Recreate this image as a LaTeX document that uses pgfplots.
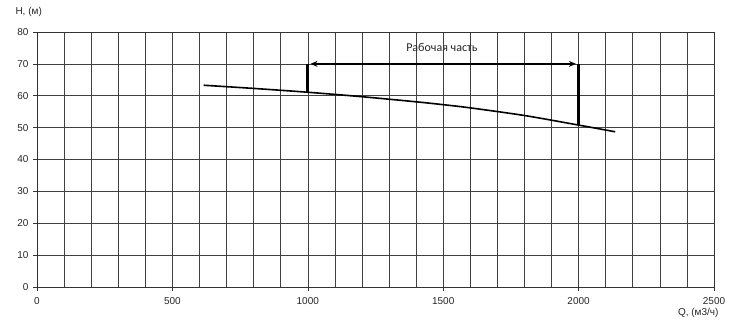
\documentclass[border=0pt]{standalone}
\usepackage{fontspec}
\setmainfont{Liberation Sans}
\newfontfamily\calfont{Carlito}
\usepackage{pgfplots}
\pgfplotsset{compat=1.18}
\usetikzlibrary{arrows.meta}
\begin{document}
\begin{tikzpicture}
\useasboundingbox (-37bp,-36bp) rectangle (695bp,287bp);
\begin{axis}[
  scale only axis,
  width=677bp, height=255bp,
  xmin=0, xmax=2500, ymin=0, ymax=80,
  xtick={0,500,...,2500},
  ytick={0,10,...,80},
  minor xtick={0,100,...,2500},
  grid=both,
  major grid style={black!75, line width=0.6bp},
  minor grid style={black!75, line width=0.6bp},
  axis line style={black!80, line width=0.6bp},
  tick style={black!80, line width=0.6bp},
  tick align=outside,
  major tick length=4bp,
  minor tick length=0pt,
  xtick pos=bottom, ytick pos=left,
  /pgf/number format/assume math mode=true,
  /pgf/number format/1000 sep={},
  ticklabel style={font=\fontsize{10bp}{12bp}\selectfont, text=black!85},
  yticklabel style={xshift=-1bp},
  xticklabel style={yshift=-3bp},
  xlabel={Q, (м3/ч)},
  ylabel={H, (м)},
  every axis x label/.style={at={(rel axis cs:1,0)}, anchor=east, xshift=8bp, yshift=-26bp, font=\fontsize{10bp}{12bp}\selectfont, text=black!85},
  every axis y label/.style={at={(rel axis cs:0,1)}, anchor=west, xshift=-25bp, yshift=20bp, font=\fontsize{10bp}{12bp}\selectfont, text=black!85},
  clip=false,
]
\addplot[black, line width=1.6bp, smooth] coordinates {
 (615,63.3) (800,62.3) (1000,61.1) (1200,59.7) (1400,58.1) (1500,57.2)
 (1600,56.2) (1800,53.8) (2000,50.8) (2135,48.7)
};
\addplot[black, line width=3bp] coordinates {(1000,61.1) (1000,70)};
\addplot[black, line width=2.5bp] coordinates {(2000,50.8) (2000,70)};
\addplot[black, line width=2bp, {Stealth[length=7bp,width=6bp]}-{Stealth[length=7bp,width=6bp]}] coordinates {(1010,70) (1990,70)};
\node[font=\calfont\fontsize{12bp}{14bp}\selectfont, text=black!85] at (axis cs:1495,75.3) {Рабочая часть};
\end{axis}
\end{tikzpicture}
\end{document}
